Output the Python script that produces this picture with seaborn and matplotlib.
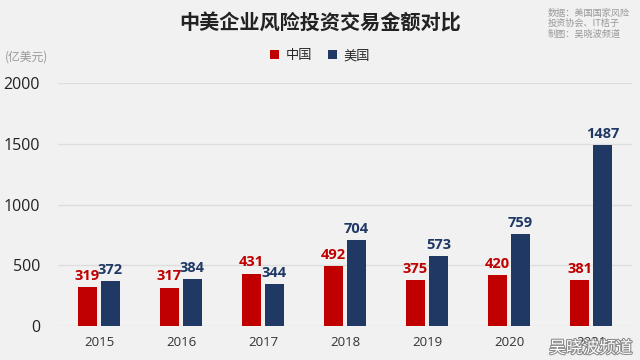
import matplotlib
matplotlib.use("Agg")
import matplotlib.pyplot as plt
import matplotlib.patheffects as pe
import seaborn as sns
import pandas as pd
from matplotlib.patches import Patch

years = ["2015", "2016", "2017", "2018", "2019", "2020", "2021"]
china = [319, 317, 431, 492, 375, 420, 381]
usa = [372, 384, 344, 704, 573, 759, 1487]
series = ["中国", "美国"]
colors = ["#c00000", "#1f3864"]
yticks = [0, 500, 1000, 1500, 2000]

df = pd.DataFrame({
    "year": years * 2,
    "value": china + usa,
    "country": [series[0]] * len(years) + [series[1]] * len(years),
})

sns.set_theme(style="white")
plt.rcParams['font.family'] = ['Noto Sans CJK SC', 'DejaVu Sans']
bg = "#f1f1f1"
fig = plt.figure(figsize=(6.4, 3.6), dpi=100, facecolor=bg)
ax = fig.add_axes([0.0906, 0.0944, 0.897, 0.675], facecolor=bg)

sns.barplot(data=df, x="year", y="value", hue="country", order=years,
            hue_order=series, palette=colors, width=0.56, gap=0.2,
            saturation=1, ax=ax, legend=False, linewidth=0)

for cont, col in zip(ax.containers, colors):
    ax.bar_label(cont, padding=3, color=col, fontsize=10.5, fontweight="bold",
                 fontfamily=["Open Sans", "DejaVu Sans"])

ax.set_xlim(-0.5, 6.5)
ax.set_ylim(0, 2000)
ax.set_yticks(yticks)
ax.set_yticklabels([str(t) for t in yticks], fontsize=11.5, color="#222222",
                   fontfamily=["Open Sans", "DejaVu Sans"])
ax.tick_params(axis="y", length=0, pad=13)
ax.tick_params(axis="x", length=0, pad=7, labelsize=9.5, labelcolor="#333333")
for lab in ax.get_xticklabels():
    lab.set_fontfamily(["Open Sans", "DejaVu Sans"])
ax.set_xlabel("")
ax.set_ylabel("")
ax.yaxis.grid(True, color="#dddddd", linewidth=1)
ax.set_axisbelow(True)
for s in ax.spines.values():
    s.set_visible(False)

fig.text(0.500, 0.935, "中美企业风险投资交易金额对比", ha="center", va="center",
         fontsize=14.5, fontweight="bold", color="#222222")
fig.text(0.856, 0.935, "数据：美国国家风险\n投资协会、IT桔子\n制图：吴晓波频道",
         ha="left", va="center", fontsize=6.6, color="#999999", linespacing=1.2)
fig.text(0.008, 0.842, "(亿美元)", ha="left", va="center", fontsize=8.5,
         color="#999999")

handles = [Patch(facecolor=c, edgecolor="none") for c in colors]
fig.legend(handles, series, loc="center", bbox_to_anchor=(0.5, 0.845), ncol=2,
           frameon=False, fontsize=9.5, handlelength=0.7, handleheight=0.7,
           handletextpad=0.5, columnspacing=1.2)

fig.text(0.988, 0.032, "吴晓波频道", ha="right", va="center", fontsize=12,
         color="white", path_effects=[pe.withStroke(linewidth=1.5, foreground="#888888")])

fig.savefig("out.png", dpi=100, facecolor=bg)
